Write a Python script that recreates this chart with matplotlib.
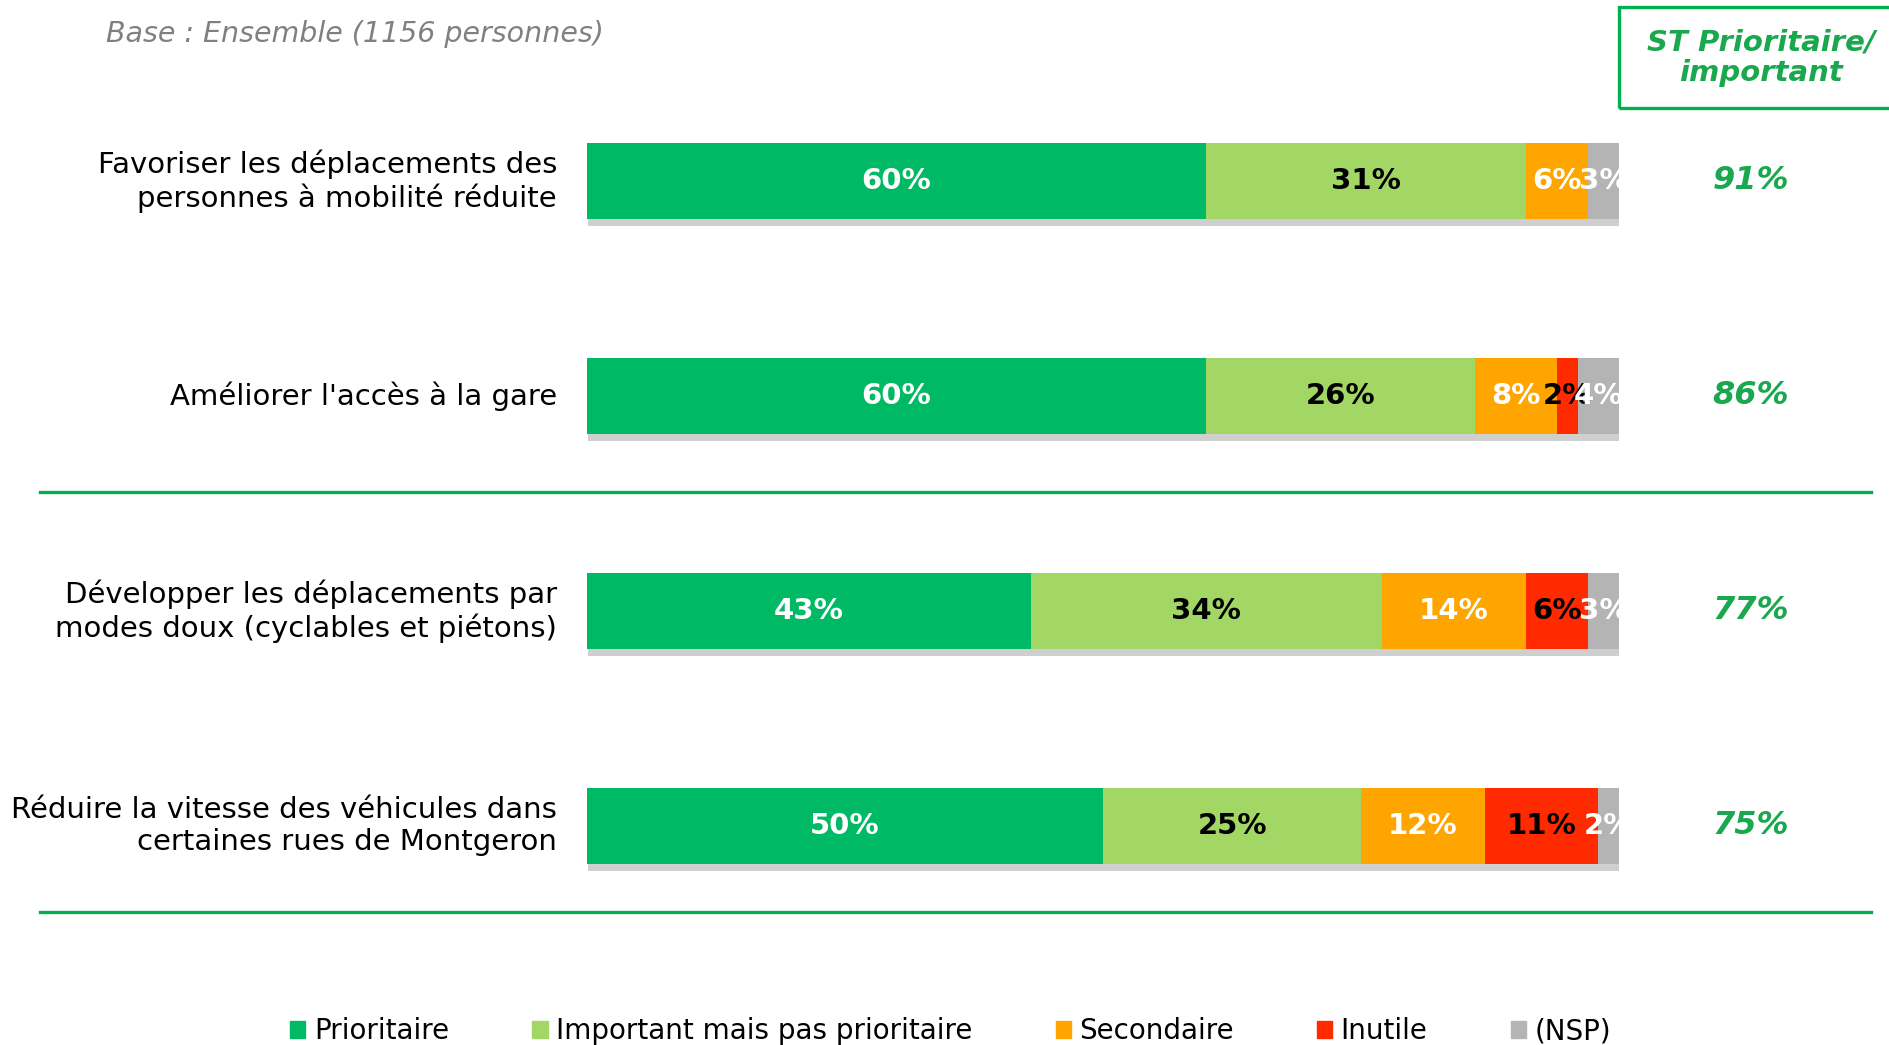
import matplotlib
matplotlib.use("Agg")
import matplotlib.pyplot as plt
from matplotlib import patheffects
from matplotlib.patches import Rectangle
from matplotlib.lines import Line2D

categories = [
    "Favoriser les déplacements des\npersonnes à mobilité réduite",
    "Améliorer l'accès à la gare",
    "Développer les déplacements par\nmodes doux (cyclables et piétons)",
    "Réduire la vitesse des véhicules dans\ncertaines rues de Montgeron",
]
series_names = ["Prioritaire", "Important mais pas prioritaire", "Secondaire", "Inutile", "(NSP)"]
prioritaire = [60, 60, 43, 50]
important = [31, 26, 34, 25]
secondaire = [6, 8, 14, 12]
inutile = [0, 2, 6, 11]
nsp = [3, 4, 3, 2]
st_total = [91, 86, 77, 75]

colors = ["#00b964", "#a2d665", "#ffa500", "#ff2a00", "#b4b4b4"]
label_colors = ["white", "black", "white", "black", "white"]
green_txt = "#1aa84f"
line_green = "#00b050"

plt.rcParams["font.family"] = "DejaVu Sans"

fig = plt.figure(figsize=(18.9, 10.45), dpi=100)
ax = fig.add_axes([587 / 1890, 0.1067, 1032 / 1890, 0.823])
ax.set_xlim(0, 100)
ax.set_ylim(3.5, -0.5)
ax.axis("off")

shadow = [patheffects.SimplePatchShadow(offset=(1, -5), shadow_rgbFace="#777777", alpha=0.35),
          patheffects.Normal()]

series = [prioritaire, important, secondaire, inutile, nsp]
y_pos = list(range(len(categories)))
left = [0] * len(categories)
for vals, col, tcol in zip(series, colors, label_colors):
    bars = ax.barh(y_pos, vals, left=left, height=0.35, color=col, linewidth=0)
    for b in bars:
        b.set_path_effects(shadow)
    for y, v, l in zip(y_pos, vals, left):
        if v > 0:
            t = ax.text(l + v / 2, y, f"{v}%", ha="center", va="center", fontsize=21,
                        fontweight="bold", color=tcol)
            t.set_clip_box(ax.bbox)
            t.set_clip_on(True)
    left = [a + b for a, b in zip(left, vals)]

# category labels
for y, cat in zip(y_pos, categories):
    ax.text(-2.9, y, cat, ha="right", va="center", fontsize=21, color="black",
            linespacing=1.2)

# ST totals
for y, v in zip(y_pos, st_total):
    ax.text(112.8, y, f"{v}%", ha="center", va="center", fontsize=23,
            fontweight="bold", fontstyle="italic", color=green_txt, clip_on=False)

# separators
for yy in (492, 912):
    fig.add_artist(Line2D([40 / 1890, 1871 / 1890], [1 - yy / 1045] * 2,
                          color=line_green, linewidth=2.4))

# header box
fig.add_artist(Rectangle((1619 / 1890, 1 - 108 / 1045), 0.2, 101 / 1045,
                         fill=False, edgecolor=line_green, linewidth=2.4))
fig.text(1761 / 1890, 1 - 58 / 1045, "ST Prioritaire/\nimportant", ha="center",
         va="center", fontsize=21, fontweight="bold", fontstyle="italic",
         color=green_txt, linespacing=1.1)

fig.text(106 / 1890, 1 - 34 / 1045, "Base : Ensemble (1156 personnes)", ha="left",
         va="center", fontsize=20.5, fontstyle="italic", color="#808080")

handles = [Rectangle((0, 0), 1, 1, color=c) for c in colors]
fig.legend(handles, series_names, loc="center", bbox_to_anchor=(0.503, 0.013),
           ncol=5, frameon=False, fontsize=20, handlelength=0.55, handleheight=0.55,
           handletextpad=0.3, columnspacing=3.0)

fig.savefig("out.png", dpi=100)
